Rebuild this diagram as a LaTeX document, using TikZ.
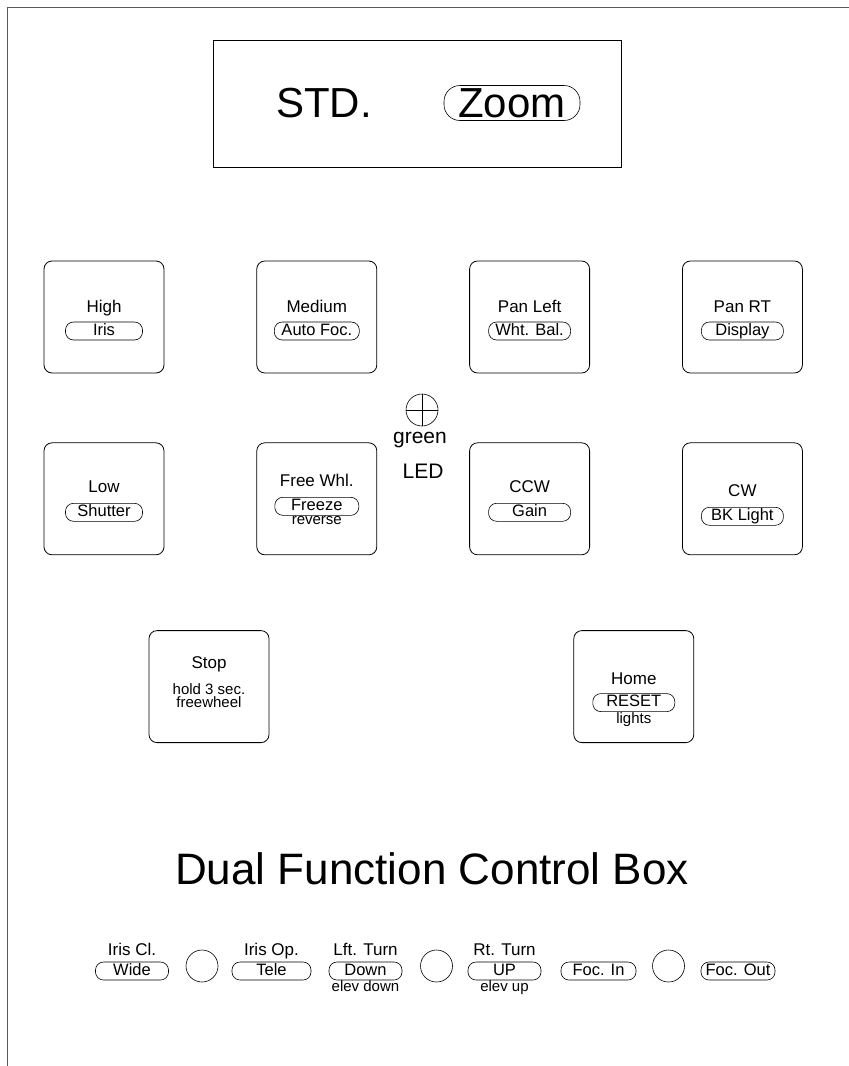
\documentclass[tikz,border=0pt]{standalone}
\usepackage{fontspec}
\setmainfont{Liberation Sans}
\usetikzlibrary{positioning}

\begin{document}
\begin{tikzpicture}[
    x=1pt, y=-1pt,
    node distance=6pt and 6pt,
    key/.style={rectangle, draw, rounded corners=8pt, minimum width=120pt, minimum height=112pt, line width=0.8pt},
    pill/.style={rectangle, draw, rounded corners=8pt, minimum height=18pt, inner sep=0pt, line width=0.6pt, text height=11.5pt, text depth=3pt, font=\fontsize{16.5}{16}\selectfont},
    lbl/.style={inner sep=0pt, text height=12pt, text depth=3pt, font=\fontsize{17}{17}\selectfont},
    note/.style={inner sep=0pt, align=center, font=\fontsize{15}{12.5}\selectfont},
    led/.style={circle, draw, minimum size=32pt, inner sep=0pt, line width=0.6pt},
    line/.style={draw, line width=1pt, black!65}
]
\useasboundingbox (0,0) rectangle (849,1066);

% Frame
\coordinate (fbl) at (7,1066);
\coordinate (ftl) at (7,7);
\coordinate (ftr) at (849,7);
\draw[line] (fbl) -- (ftl) -- (ftr);

% Display
\node[rectangle, draw, line width=0.8pt, minimum width=408pt, minimum height=127pt] (screen) at (417,103.5) {};
\node[inner sep=0pt, font=\fontsize{42}{42}\selectfont] (std) at (324,103) {STD.};
\node[pill, minimum width=136pt, minimum height=35pt, rounded corners=16pt, text height=30pt, text depth=1pt, font=\fontsize{42}{42}\selectfont] (zoom) at (512,103) {Zoom};

% Row 1
\node[key] (hi) at (104,317) {};
\node[key, right=92pt of hi] (med) {};
\node[key, right=92pt of med] (panl) {};
\node[key, right=92pt of panl] (panr) {};

\node[pill, minimum width=77pt] (iris) at ([yshift=-14pt]hi.center) {Iris};
\node[pill, minimum width=85pt] (afoc) at ([yshift=-14pt]med.center) {Auto Foc.};
\node[pill, minimum width=82pt] (wbal) at ([yshift=-14pt]panl.center) {Wht. Bal.};
\node[pill, minimum width=82pt] (disp) at ([yshift=-14pt]panr.center) {Display};
\node[lbl, above=6pt of iris] {High};
\node[lbl, above=6pt of afoc] {Medium};
\node[lbl, above=6pt of wbal] {Pan Left};
\node[lbl, above=6pt of disp] {Pan RT};

% Row 2
\node[key, below=69pt of hi] (lo) {};
\node[key, right=92pt of lo] (free) {};
\node[key, right=92pt of free] (ccw) {};
\node[key, right=92pt of ccw] (cw) {};

\node[pill, minimum width=77pt] (shut) at ([yshift=-13.5pt]lo.center) {Shutter};
\node[pill, minimum width=84pt] (frz) at ([yshift=-7.5pt]free.center) {Freeze};
\node[pill, minimum width=82pt] (gain) at ([yshift=-13.5pt]ccw.center) {Gain};
\node[pill, minimum width=82pt] (bkl) at ([yshift=-17.5pt]cw.center) {BK Light};
\node[lbl, above=7pt of shut] {Low};
\node[lbl, above=7pt of frz] {Free Whl.};
\node[lbl, above=7pt of gain] {CCW};
\node[lbl, above=7pt of bkl] {CW};
\node[note, below=0.5pt of frz] (rev) {reverse};

% LED
\node[led] (led) at (422,410) {};
\draw[line width=0.6pt] (led.north) -- (led.south) (led.west) -- (led.east);
\node[inner sep=0pt, font=\fontsize{21}{21}\selectfont] (green) at (420,440) {green};
\node[inner sep=0pt, font=\fontsize{21}{21}\selectfont] (ledtxt) at (423,471) {LED};

% Row 3
\node[key, below=75pt of lo, xshift=105pt] (stop) {};
\node[key, right=304pt of stop] (home) {};

\node[lbl] (stoptxt) at ([yshift=22.5pt]stop.center) {Stop};
\node[note] (hold) at ([yshift=-2.5pt]stop.center) {hold 3 sec.};
\node[note, below=2pt of hold] (fwheel) {freewheel};
\node[pill, minimum width=82pt] (reset) at ([yshift=-16pt]home.center) {RESET};
\node[lbl, above=6pt of reset] {Home};
\node[note, below=0.5pt of reset] (lights) {lights};

% Title
\node[inner sep=0pt, font=\fontsize{44}{44}\selectfont] (title) at (432,869) {Dual Function Control Box};

% Bottom row
\node[pill, minimum width=73pt] (wide) at (132,971) {Wide};
\node[led] (c1) at (202,966) {};
\node[pill, minimum width=79pt] (tele) at (271.5,971) {Tele};
\node[pill, minimum width=73pt] (down) at (365.5,971) {Down};
\node[led] (c2) at (436.5,966) {};
\node[pill, minimum width=73pt] (up) at (504.5,971) {UP};
\node[pill, minimum width=75pt] (focin) at (598.5,971) {Foc. In};
\node[led] (c3) at (668.5,966) {};
\node[pill, minimum width=74pt] (focout) at (738,971) {Foc. Out};

\node[lbl, above=3pt of wide] {Iris Cl.};
\node[lbl, above=3pt of tele] {Iris Op.};
\node[lbl, above=3pt of down] {Lft. Turn};
\node[lbl, above=3pt of up] {Rt. Turn};
\node[note, below=0.5pt of down] {elev down};
\node[note, below=0.5pt of up] {elev up};
\end{tikzpicture}
\end{document}
